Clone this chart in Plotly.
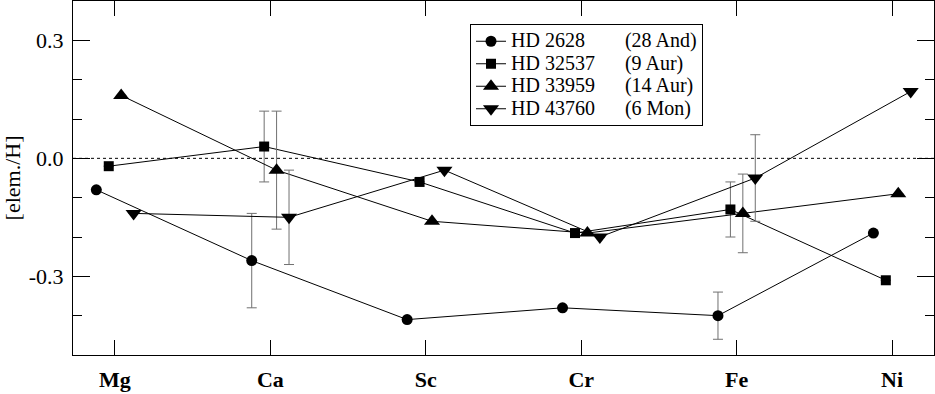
import plotly.graph_objects as go

elements = ["Mg", "Ca", "Sc", "Cr", "Fe", "Ni"]

names = ["HD 2628", "HD 32537", "HD 33959", "HD 43760"]
aliases = ["(28 And)", "(9 Aur)", "(14 Aur)", "(6 Mon)"]

hd2628 = [-0.08, -0.26, -0.41, -0.38, -0.40, -0.19]
hd32537 = [-0.02, 0.03, -0.06, -0.19, -0.13, -0.31]
hd33959 = [0.16, -0.03, -0.16, -0.19, -0.14, -0.09]
hd43760 = [-0.14, -0.15, -0.03, -0.20, -0.05, 0.17]

err2628 = [None, 0.12, None, None, 0.06, None]
err32537 = [None, 0.09, None, None, 0.07, None]
err33959 = [None, 0.15, None, None, 0.10, None]
err43760 = [None, 0.12, None, None, 0.11, None]

series = [hd2628, hd32537, hd33959, hd43760]
errors = [err2628, err32537, err33959, err43760]
offsets = [-0.12, -0.04, 0.04, 0.12]
symbols = ["circle", "square", "triangle-up", "triangle-down"]
sizes = [11, 10, 14, 14]
pads = [8, 6, 6, 6]

FONT = '"Liberation Serif", "Times New Roman", Times, serif'
NB = "\u00a0"

fig = go.Figure()
for vals, err, off, sym, sz, nm, al, pd_ in zip(series, errors, offsets, symbols, sizes, names, aliases, pads):
    xs = [i + off for i in range(len(elements))]
    fig.add_trace(go.Scatter(
        x=xs, y=vals, mode="lines+markers",
        name="<span style='font-size:20px'>" + nm + NB * pd_ + al + "</span>",
        line=dict(color="black", width=1),
        marker=dict(symbol=sym, size=sz, color="black", line=dict(width=0)),
        error_y=dict(type="data", array=err, visible=True, color="#707070",
                     thickness=1, width=5),
    ))

fig.add_shape(type="line", xref="paper", x0=0, x1=1, yref="y", y0=0, y1=0,
              line=dict(color="black", width=1, dash="3px,3px"), layer="below")

fig.update_layout(
    width=935, height=394,
    margin=dict(l=73, r=1, t=1, b=39),
    paper_bgcolor="white", plot_bgcolor="white",
    font=dict(family=FONT, size=22, color="black"),
    showlegend=True,
    legend=dict(x=(470 - 73) / 861, xanchor="left", y=1 - 23 / 354, yanchor="top",
                xref="paper", yref="paper",
                bgcolor="white", bordercolor="black", borderwidth=1,
                font=dict(family=FONT, size=15, color="black"),
                itemwidth=30, tracegroupgap=0),
    xaxis=dict(range=[-0.27, 5.27], tickvals=list(range(len(elements))), ticktext=elements,
               ticks="inside", ticklen=15, tickwidth=1, tickcolor="black",
               showline=True, linecolor="black", linewidth=1, mirror="ticks",
               showgrid=False, zeroline=False, ticklabelstandoff=5,
               tickfont=dict(family=FONT, size=22, color="black", weight="bold")),
    yaxis=dict(range=[-0.5, 0.4], tickvals=[-0.3, 0.0, 0.3], ticktext=["-0.3", "0.0", "0.3"],
               ticks="inside", ticklen=17, tickwidth=1, tickcolor="black",
               showline=True, linecolor="black", linewidth=1, mirror="ticks",
               showgrid=False, zeroline=False, ticklabelstandoff=4,
               minor=dict(dtick=0.1, tick0=0, ticks="inside", ticklen=9, tickcolor="black", tickwidth=1, showgrid=False),
               tickfont=dict(family=FONT, size=22, color="black"),
               title=dict(text="[elem./H]", font=dict(family=FONT, size=22, color="black"), standoff=4)),
)

fig.write_html("out.html", config={"displayModeBar": False},
               post_script="document.body.style.margin='0';")
